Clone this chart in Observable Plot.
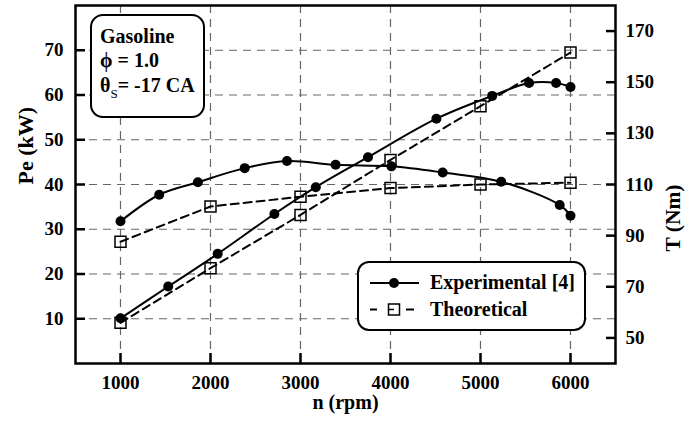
<!DOCTYPE html>
<html><head><meta charset="utf-8">
<script src="https://cdn.jsdelivr.net/npm/d3@7"></script>
<script src="https://cdn.jsdelivr.net/npm/@observablehq/plot@0.6"></script>
<style>body{margin:0;background:#fff}</style>
</head><body><div id="chart"></div>
<script>
// ---- data ----
const expPowerRpm  = [1000,1530,2080,2710,3170,3750,4510,5130,5540,5840,6000];
const expPower     = [10.1,17.2,24.5,33.4,39.4,46.1,54.7,59.8,62.7,62.7,61.8];
const expTorqueRpm = [1000,1430,1860,2380,2850,3390,4010,4580,5230,5880,6000];
const expTorque    = [95.6,106.0,110.9,116.4,119.2,117.7,117.1,114.7,111.1,102.0,97.8];
const theoRpm      = [1000,2000,3000,4000,5000,6000];
const theoPower    = [9.1,21.3,33.2,45.5,57.5,69.5];
const theoTorque   = [87.6,101.4,105.2,108.6,110.0,110.7];
const rpmTicks     = [1000,2000,3000,4000,5000,6000];
const powerTicks   = [10,20,30,40,50,60,70];
const torqueTicks  = [50,70,90,110,130,150,170];
const seriesNames  = ["Experimental [4]","Theoretical"];

// torque (right axis) mapped onto the power scale
const tmap = d3.scaleLinear([40,180],[0,80]);

const expP = expPowerRpm.map((n,i)=>({n, v: expPower[i]}));
const expT = expTorqueRpm.map((n,i)=>({n, v: tmap(expTorque[i])}));
const thP  = theoRpm.map((n,i)=>({n, v: theoPower[i]}));
const thT  = theoRpm.map((n,i)=>({n, v: tmap(theoTorque[i])}));

const font = "'Liberation Serif','Times New Roman',serif";
const grid = {stroke:"#666", strokeOpacity:1, strokeDasharray:"8,6", strokeWidth:1.2};
const solid = {x:"n", y:"v", stroke:"black", strokeWidth:2, curve:"catmull-rom"};
const dashed = {x:"n", y:"v", stroke:"black", strokeWidth:2, strokeDasharray:"8,5"};
const circ = {x:"n", y:"v", r:5, fill:"black"};
const sq = {x:"n", y:"v", symbol:"square", r:6.2, fill:"none", stroke:"black", strokeWidth:1.5};

const chart = Plot.plot({
  width: 699, height: 421,
  marginLeft: 75, marginRight: 84, marginTop: 5, marginBottom: 58,
  style: {fontFamily: font, fontWeight: "bold", fontSize: "19px", background: "white", color: "black"},
  x: {domain: [500, 6500]},
  y: {domain: [0, 80]},
  marks: [
    Plot.gridX(rpmTicks, grid),
    Plot.gridY(powerTicks, grid),
    Plot.line(expP, solid),
    Plot.line(expT, solid),
    Plot.line(thP, dashed),
    Plot.line(thT, dashed),
    Plot.dot(expP, circ),
    Plot.dot(expT, circ),
    Plot.dot(thP, sq),
    Plot.dot(thT, sq),
    Plot.frame({stroke:"black", strokeWidth:2.5}),
    Plot.axisX(rpmTicks, {anchor:"bottom", tickSize:-10, tickPadding:22, strokeWidth:2.5, label:null,
      tickFormat: d => String(d)}),
    Plot.axisY(powerTicks, {anchor:"left", tickSize:-10, tickPadding:22, strokeWidth:2.5, label:null}),
    Plot.axisY(torqueTicks.map(t=>tmap(t)), {anchor:"right", tickSize:-10, tickPadding:20, strokeWidth:2.5, label:null,
      tickFormat: d => String(Math.round(tmap.invert(d)))}),
    Plot.text(["Pe (kW)"], {frameAnchor:"left", dx:-50, rotate:-90, fontSize:22}),
    Plot.text(["T (Nm)"], {frameAnchor:"right", dx:58, rotate:-90, fontSize:21.5}),
    Plot.text(["n (rpm)"], {frameAnchor:"bottom", dy:45, fontSize:20})
  ]
});

const svg = d3.select(chart);
// info box
const info = svg.append("g").attr("font-family", font).attr("font-weight","bold").attr("font-size", 20).attr("text-anchor","start");
info.append("rect").attr("x",91).attr("y",15).attr("width",113).attr("height",102).attr("rx",12)
  .attr("fill","white").attr("stroke","black").attr("stroke-width",2);
info.append("text").attr("x",100).attr("y",43).text("Gasoline");
info.append("text").attr("x",100).attr("y",67).text("ϕ = 1.0");
const th = info.append("text").attr("x",100).attr("y",91.5);
th.append("tspan").text("θ");
th.append("tspan").attr("font-size",13).attr("font-weight","normal").attr("dy",6).text("S");
th.append("tspan").attr("dy",-6).text("= -17 CA");

// legend
const lg = svg.append("g").attr("font-family", font).attr("font-weight","bold").attr("font-size", 20).attr("text-anchor","start");
lg.append("rect").attr("x",358).attr("y",262).attr("width",227).attr("height",68).attr("rx",11)
  .attr("fill","white").attr("stroke","black").attr("stroke-width",2);
lg.append("line").attr("x1",370).attr("x2",419).attr("y1",283).attr("y2",283).attr("stroke","black").attr("stroke-width",2);
lg.append("circle").attr("cx",394).attr("cy",283).attr("r",5).attr("fill","black");
lg.append("line").attr("x1",370).attr("x2",377).attr("y1",309.5).attr("y2",309.5).attr("stroke","black").attr("stroke-width",2);
lg.append("line").attr("x1",406).attr("x2",414).attr("y1",309.5).attr("y2",309.5).attr("stroke","black").attr("stroke-width",2);
lg.append("rect").attr("x",388.5).attr("y",304).attr("width",11).attr("height",11).attr("fill","none").attr("stroke","black").attr("stroke-width",1.5);
lg.append("line").attr("x1",388.5).attr("x2",394).attr("y1",309.5).attr("y2",309.5).attr("stroke","black").attr("stroke-width",1.5);
lg.append("text").attr("x",430).attr("y",289).text(seriesNames[0]);
lg.append("text").attr("x",430).attr("y",316).text(seriesNames[1]);

document.getElementById("chart").appendChild(chart);
</script>
</body></html>
